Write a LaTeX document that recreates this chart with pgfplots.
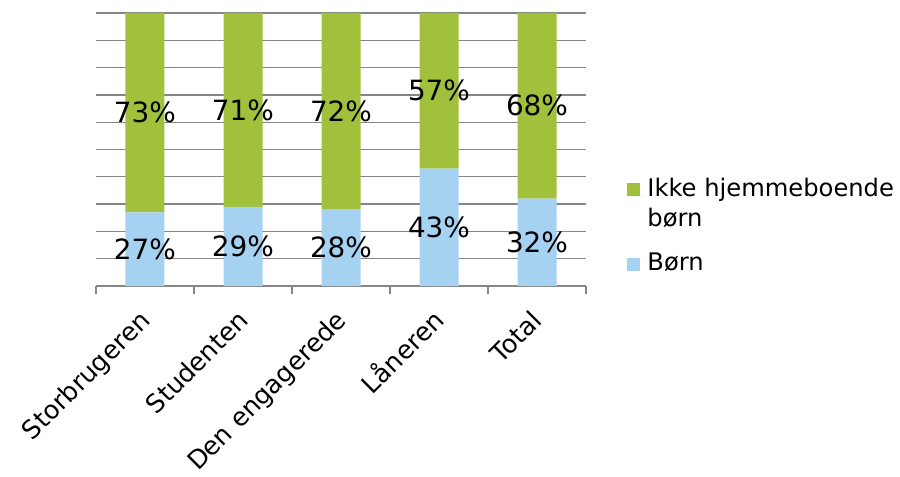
\documentclass[border=0pt]{standalone}
\usepackage{pgfplots}
\pgfplotsset{compat=1.18}
\usepackage{pgfplotstable}
\usepackage{fontspec}
\setmainfont{DejaVu Sans}
\definecolor{cgreen}{RGB}{161,193,60}
\definecolor{cblue}{RGB}{166,210,242}
\definecolor{cgrid}{RGB}{134,134,134}
\pgfplotstableread{
x born ikke
0 27 73
1 29 71
2 28 72
3 43 57
4 32 68
}\data
\begin{document}
\begin{tikzpicture}
\begin{axis}[
  scale only axis, width=490bp, height=273bp,
  ybar stacked, bar width=39bp,
  xmin=-0.5, xmax=4.5, ymin=0, ymax=100,
  xtick={-0.5,0.5,...,4.5}, xticklabels={},
  major tick length=8bp, tick align=outside,
  xtick style={draw=cgrid, line width=1.2bp},
  extra x ticks={0,1,2,3,4},
  extra x tick labels={Storbrugeren,Studenten,Den engagerede,Låneren,Total},
  extra x tick style={major tick length=0pt},
  xticklabel style={font=\fontsize{25.5}{30}\selectfont, inner sep=0pt, xshift=7bp, yshift=-36bp, rotate=45, anchor=base east},
  ytick={0,10,...,100}, yticklabels={}, ytick style={draw=none},
  ymajorgrids, grid style={draw=cgrid, line width=1.3bp},
  axis x line*=bottom, axis y line*=left,
  y axis line style={draw=none},
  x axis line style={draw=cgrid, line width=1.3bp},
  /pgf/number format/assume math mode=true,
  nodes near coords={\pgfmathprintnumber{\pgfplotspointmeta}\%},
  every node near coord/.style={font=\fontsize{28}{32}\selectfont, text=black, anchor=center},
  reverse legend,
  legend cell align=left,
  legend style={at={(1.078,0.41)}, anchor=north west, draw=none, fill=none,
    font=\fontsize{24.3}{30}\selectfont, cells={align=left}, row sep=21bp},
]
\addplot[fill=cblue, draw=none, point meta=explicit,
  legend image code/.code={\fill[cblue] (0bp,-8bp) rectangle (13bp,5bp); \path (0bp,0bp) -- (18bp,0bp);}]
  table[x=x, y=born, meta=born] {\data};
\addlegendentry{Børn}
\addplot[fill=cgreen, draw=none, point meta=explicit,
  legend image code/.code={\fill[cgreen] (0bp,7bp) rectangle (13bp,20bp); \path (0bp,7bp) -- (18bp,7bp);}]
  table[x=x, y=ikke, meta=ikke] {\data};
\addlegendentry{Ikke hjemmeboende\\børn}
\end{axis}
\pgfresetboundingbox
\useasboundingbox (-96bp,-191bp) rectangle (804bp,286bp);
\end{tikzpicture}
\end{document}
